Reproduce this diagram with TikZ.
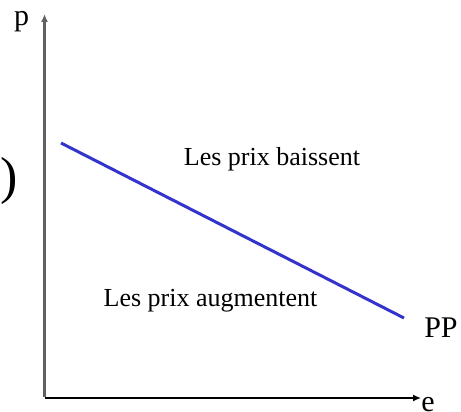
\documentclass[tikz,border=0pt]{standalone}
\usepackage{fontspec}
\setmainfont{Liberation Serif}
\usepackage{tikz}
\usepackage{xcolor}
\usetikzlibrary{arrows.meta,positioning}
\colorlet{ppAxisV}{black!62}
\colorlet{ppAxisH}{black}
\definecolor{ppLine}{RGB}{52,52,204}
\tikzset{
  ppaxis/.style={-{Latex[length=8pt,width=7pt]}},
  pplabel/.style={font=\fontsize{30}{32}\selectfont, inner sep=0pt, anchor=base},
  pptext/.style={font=\fontsize{26}{28}\selectfont, inner sep=0pt, anchor=base},
  ppcurve/.style={draw=ppLine, line width=3pt}
}
\begin{document}
\begin{tikzpicture}[x=1pt,y=-1pt]
  \useasboundingbox (0,0) rectangle (461,412);
  \coordinate (orig) at (44.5,398);
  \coordinate (ptop) at (44.5,14);
  \coordinate (eend) at (421,398);
  \coordinate (ppstart) at (61,143);
  \coordinate (ppend) at (404,318);

  \draw[ppaxis, draw=ppAxisV, fill=ppAxisV, line width=2.2pt] ([yshift=1pt]orig) -- (ptop);
  \draw[ppaxis, draw=ppAxisH, line width=1.5pt] (orig) -- (eend);
  \draw[ppcurve] (ppstart) -- (ppend);

  \node[pplabel] (plab) at (21.5,26) {p};
  \node[pplabel] (elab) at (428,411) {e};
  \node[pplabel] (pplab) at (441,337) {PP};
  \node[font=\fontsize{52}{54}\selectfont, inner sep=0pt, anchor=base east] (parlab) at (18.5,193) {p)};

  \node[pptext] (baisse) at (272,165) {Les prix baissent};
  \node[pptext] (hausse) at (210.5,306) {Les prix augmentent};
\end{tikzpicture}
\end{document}
